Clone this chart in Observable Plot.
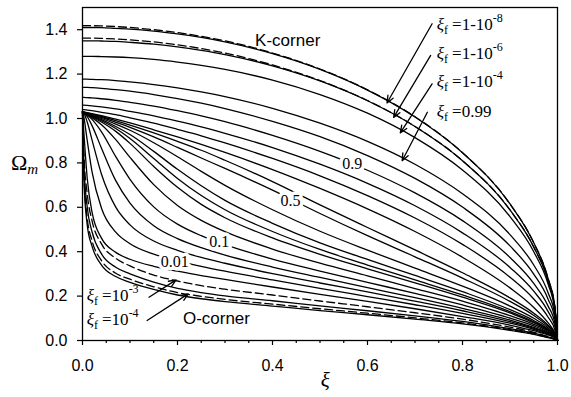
<!DOCTYPE html>
<html><head><meta charset="utf-8">
<script src="https://cdn.jsdelivr.net/npm/d3@7"></script>
<script src="https://cdn.jsdelivr.net/npm/@observablehq/plot@0.6"></script>
<style>
body{margin:0;background:#fff;}
#chart{width:571px;height:397px;}
</style></head><body><div id="chart"></div>
<script>
// shared abscissa (ξ) for every curve
const xi = [0, 0.003, 0.01, 0.02, 0.04, 0.07, 0.1, 0.15, 0.2, 0.25, 0.3, 0.4, 0.5, 0.6, 0.7, 0.8, 0.9, 0.95, 0.98, 0.995, 1];

// O-corner family (bottom)
const c1 = [1.03, 0.72, 0.52, 0.425, 0.34, 0.288, 0.262, 0.23, 0.205, 0.188, 0.175, 0.155, 0.135, 0.116, 0.096, 0.075, 0.046, 0.028, 0.013, 0.005, 0];
const c2 = [1.03, 0.75, 0.55, 0.45, 0.36, 0.303, 0.276, 0.242, 0.216, 0.199, 0.185, 0.164, 0.143, 0.123, 0.102, 0.079, 0.049, 0.03, 0.014, 0.005, 0];
const c3 = [1.03, 0.79, 0.6, 0.49, 0.39, 0.33, 0.3, 0.263, 0.235, 0.216, 0.201, 0.179, 0.156, 0.134, 0.111, 0.086, 0.053, 0.033, 0.016, 0.006, 0];
const c4 = [1.03, 0.84, 0.66, 0.54, 0.435, 0.37, 0.336, 0.295, 0.268, 0.247, 0.231, 0.205, 0.178, 0.152, 0.125, 0.096, 0.06, 0.037, 0.018, 0.007, 0];
// intermediate family
const m5 = [1.03, 0.934, 0.73, 0.579, 0.461, 0.397, 0.366, 0.334, 0.312, 0.292, 0.275, 0.241, 0.208, 0.176, 0.143, 0.108, 0.069, 0.044, 0.025, 0.011, 0];
const m6 = [1.03, 1.004, 0.90, 0.761, 0.596, 0.488, 0.436, 0.389, 0.359, 0.334, 0.312, 0.273, 0.235, 0.198, 0.161, 0.122, 0.078, 0.05, 0.028, 0.012, 0];
const m7 = [1.03, 1.023, 0.984, 0.904, 0.749, 0.601, 0.521, 0.448, 0.406, 0.374, 0.348, 0.301, 0.259, 0.219, 0.177, 0.134, 0.085, 0.055, 0.031, 0.014, 0];
const m8 = [1.03, 1.026, 1.008, 0.968, 0.866, 0.72, 0.619, 0.517, 0.459, 0.418, 0.385, 0.331, 0.284, 0.238, 0.193, 0.145, 0.092, 0.059, 0.034, 0.015, 0];
const m9 = [1.03, 1.027, 1.016, 0.996, 0.94, 0.828, 0.726, 0.602, 0.524, 0.472, 0.432, 0.367, 0.313, 0.262, 0.212, 0.16, 0.101, 0.066, 0.037, 0.016, 0];
const m10 = [1.03, 1.027, 1.018, 1.004, 0.972, 0.905, 0.825, 0.702, 0.608, 0.541, 0.49, 0.412, 0.348, 0.291, 0.234, 0.177, 0.112, 0.073, 0.042, 0.018, 0];
const m11 = [1.03, 1.028, 1.02, 1.008, 0.984, 0.942, 0.888, 0.784, 0.69, 0.613, 0.553, 0.462, 0.388, 0.323, 0.26, 0.195, 0.124, 0.08, 0.046, 0.02, 0];
const m12 = [1.03, 1.028, 1.021, 1.01, 0.99, 0.955, 0.91, 0.82, 0.73, 0.653, 0.589, 0.491, 0.41, 0.34, 0.273, 0.205, 0.13, 0.084, 0.048, 0.021, 0];
const m13 = [1.03, 1.028, 1.022, 1.012, 0.995, 0.964, 0.928, 0.852, 0.771, 0.697, 0.631, 0.528, 0.44, 0.365, 0.293, 0.22, 0.139, 0.09, 0.051, 0.022, 0];
const m14 = [1.03, 1.028, 1.023, 1.015, 1.0, 0.975, 0.947, 0.891, 0.828, 0.762, 0.699, 0.589, 0.492, 0.407, 0.326, 0.245, 0.155, 0.1, 0.057, 0.024, 0];
const m15 = [1.03, 1.029, 1.024, 1.018, 1.005, 0.983, 0.96, 0.917, 0.87, 0.822, 0.775, 0.677, 0.572, 0.472, 0.377, 0.281, 0.176, 0.113, 0.064, 0.028, 0];
const u0 = [1.03, 1.029, 1.025, 1.02, 1.009, 0.99, 0.97, 0.935, 0.897, 0.857, 0.812, 0.716, 0.611, 0.509, 0.408, 0.305, 0.192, 0.123, 0.069, 0.03, 0];
const u1 = [1.03, 1.029, 1.026, 1.022, 1.013, 0.997, 0.98, 0.949, 0.917, 0.883, 0.847, 0.77, 0.685, 0.593, 0.491, 0.375, 0.237, 0.149, 0.08, 0.031, 0];
// K-corner family (top)
const t8 = [1.04, 1.04, 1.038, 1.035, 1.028, 1.017, 1.003, 0.979, 0.951, 0.922, 0.89, 0.82, 0.742, 0.653, 0.552, 0.433, 0.285, 0.187, 0.106, 0.045, 0];
const t7 = [1.06, 1.06, 1.059, 1.057, 1.052, 1.043, 1.032, 1.012, 0.988, 0.962, 0.933, 0.869, 0.794, 0.708, 0.607, 0.485, 0.329, 0.222, 0.131, 0.059, 0];
const t6 = [1.095, 1.095, 1.094, 1.093, 1.089, 1.082, 1.073, 1.056, 1.035, 1.012, 0.986, 0.924, 0.852, 0.767, 0.665, 0.54, 0.374, 0.257, 0.156, 0.073, 0];
const t5 = [1.14, 1.14, 1.14, 1.139, 1.136, 1.13, 1.123, 1.108, 1.09, 1.069, 1.045, 0.987, 0.918, 0.833, 0.73, 0.601, 0.426, 0.299, 0.187, 0.092, 0];
const t4 = [1.177, 1.177, 1.177, 1.176, 1.175, 1.171, 1.165, 1.153, 1.138, 1.12, 1.099, 1.046, 0.979, 0.897, 0.794, 0.661, 0.477, 0.34, 0.216, 0.109, 0];
const t3 = [1.28, 1.28, 1.28, 1.28, 1.279, 1.277, 1.274, 1.266, 1.254, 1.239, 1.221, 1.173, 1.108, 1.024, 0.914, 0.768, 0.558, 0.40, 0.255, 0.128, 0];
const t2 = [1.35, 1.35, 1.35, 1.35, 1.349, 1.347, 1.343, 1.335, 1.323, 1.307, 1.288, 1.237, 1.169, 1.08, 0.964, 0.81, 0.588, 0.421, 0.269, 0.135, 0];
const t2d = [1.362, 1.362, 1.362, 1.362, 1.361, 1.358, 1.354, 1.345, 1.332, 1.315, 1.295, 1.241, 1.171, 1.081, 0.964, 0.81, 0.588, 0.421, 0.269, 0.135, 0];
const t1 = [1.41, 1.41, 1.41, 1.41, 1.409, 1.406, 1.403, 1.394, 1.381, 1.365, 1.345, 1.292, 1.221, 1.128, 1.007, 0.846, 0.615, 0.44, 0.281, 0.141, 0];
const t1d = [1.418, 1.418, 1.418, 1.418, 1.417, 1.414, 1.41, 1.40, 1.387, 1.37, 1.35, 1.295, 1.223, 1.129, 1.008, 0.846, 0.615, 0.44, 0.281, 0.141, 0];

const solidNames = ["c1","c3","m5","m6","m7","m8","m9","m10","m11","m12","m13","m14","m15","u0","u1","t8","t7","t6","t5","t4","t3","t2","t1"];
const solidSets = [c1,c3,m5,m6,m7,m8,m9,m10,m11,m12,m13,m14,m15,u0,u1,t8,t7,t6,t5,t4,t3,t2,t1];
const dashedNames = ["c2","c4","t2d","t1d"];
const dashedSets = [c2,c4,t2d,t1d];

// tick values
const xMajor = [0, 0.2, 0.4, 0.6, 0.8, 1.0];
const xMinor = [0.05,0.1,0.15,0.25,0.3,0.35,0.45,0.5,0.55,0.65,0.7,0.75,0.85,0.9,0.95];
const yMajor = [0, 0.2, 0.4, 0.6, 0.8, 1.0, 1.2, 1.4];

// curve labels
const labelText = ["0.9", "0.5", "0.1", "0.01"];
const labelX = [0.568, 0.438, 0.288, 0.194];
const labelY = [0.796, 0.63, 0.443, 0.353];
const cornerText = ["K-corner", "O-corner"];
const cornerX = [0.432, 0.282];
const cornerY = [1.351, 0.099];

// arrows
const arrX1 = [0.736, 0.733, 0.736, 0.726, 0.14, 0.136];
const arrY1 = [1.427, 1.284, 1.156, 1.028, 0.195, 0.09];
const arrX2 = [0.641, 0.655, 0.669, 0.673, 0.197, 0.2225];
const arrY2 = [1.07, 1.005, 0.935, 0.81, 0.273, 0.21];

// ξf annotation texts
const fBase = ["=1-10", "=1-10", "=1-10", "=0.99", "=10", "=10"];
const fExp = ["-8", "-6", "-4", "", "-3", "-4"];
const fX = [0.747, 0.747, 0.747, 0.747, 0.01, 0.01];
const fY = [1.396, 1.268, 1.14, 1.005, 0.176, 0.068];

const toRows = (names, sets) => sets.flatMap((ys, k) => ys.map((y, i) => ({id: names[k], x: xi[i], y})));
const solidRows = toRows(solidNames, solidSets);
const dashedRows = toRows(dashedNames, dashedSets);
const labels = labelText.map((t, i) => ({t, x: labelX[i], y: labelY[i]}));
const corners = cornerText.map((t, i) => ({t, x: cornerX[i], y: cornerY[i]}));
const arrows = arrX1.map((d, i) => ({x1: arrX1[i], y1: arrY1[i], x2: arrX2[i], y2: arrY2[i]}));

const sans = "'Liberation Sans', Arial, Helvetica, sans-serif";
const serif = "'Liberation Serif', 'Times New Roman', Times, serif";
const fmt = d3.format(".1f");

const plot = Plot.plot({
  width: 571, height: 397,
  marginLeft: 82, marginRight: 14, marginTop: 7, marginBottom: 57,
  x: {domain: [0, 1], label: null},
  y: {domain: [0, 1.5], label: null},
  style: {fontFamily: sans, fontSize: "16px", color: "black", background: "white"},
  marks: [
    Plot.axisX({ticks: xMinor, tickSize: 3, tickFormat: () => "", label: null, strokeWidth: 1.2}),
    Plot.axisX({ticks: xMajor, tickSize: 5, tickPadding: 14, tickFormat: fmt, label: null, strokeWidth: 1.2}),
    Plot.axisY({ticks: yMajor, tickSize: 5, tickPadding: 10, tickFormat: fmt, label: null, strokeWidth: 1.2}),
    Plot.line(solidRows, {x: "x", y: "y", z: "id", stroke: "black", strokeWidth: 1.3, curve: "monotone-x"}),
    Plot.line(dashedRows, {x: "x", y: "y", z: "id", stroke: "black", strokeWidth: 1.3, strokeDasharray: "8,4", curve: "monotone-x"}),
    Plot.frame({stroke: "black", strokeWidth: 1.3}),
    Plot.arrow(arrows, {x1: "x1", y1: "y1", x2: "x2", y2: "y2", stroke: "black", strokeWidth: 1.3, headLength: 9, headAngle: 45}),
    Plot.text(labels, {x: "x", y: "y", text: "t", fontFamily: serif, fontSize: 16, fill: "black", stroke: "white", strokeWidth: 7, paintOrder: "stroke"}),
    Plot.text(corners, {x: "x", y: "y", text: "t", fontFamily: sans, fontSize: 17, fill: "black"})
  ]
});
document.getElementById("chart").appendChild(plot);

const sx = plot.scale("x"), sy = plot.scale("y");
const svg = d3.select(plot);

// ξf labels with sub/superscripts
fBase.forEach((b, i) => {
  const t = svg.append("text")
    .attr("x", sx.apply(fX[i])).attr("y", sy.apply(fY[i]))
    .attr("text-anchor", "start")
    .attr("font-family", serif).attr("font-size", 17).attr("fill", "black");
  t.append("tspan").attr("font-style", "italic").text("ξ");
  t.append("tspan").attr("font-size", 12).attr("dy", 4).text("f");
  t.append("tspan").attr("dy", -4).attr("dx", 4).text(b);
  if (fExp[i]) t.append("tspan").attr("font-size", 12).attr("dy", -8).text(fExp[i]);
});

// axis titles
svg.append("text")
  .attr("x", sx.apply(0.512)).attr("y", sy.apply(0) + 47)
  .attr("text-anchor", "middle").attr("font-family", serif)
  .attr("font-size", 21).attr("font-style", "italic").attr("fill", "black").text("ξ");
const yt = svg.append("text")
  .attr("x", 11).attr("y", sy.apply(0.8) + 8)
  .attr("text-anchor", "start")
  .attr("font-family", serif).attr("font-size", 22).attr("fill", "black");
yt.append("tspan").text("Ω");
yt.append("tspan").attr("font-size", 15).attr("font-style", "italic").attr("dy", 4).text("m");
</script>
</body></html>
